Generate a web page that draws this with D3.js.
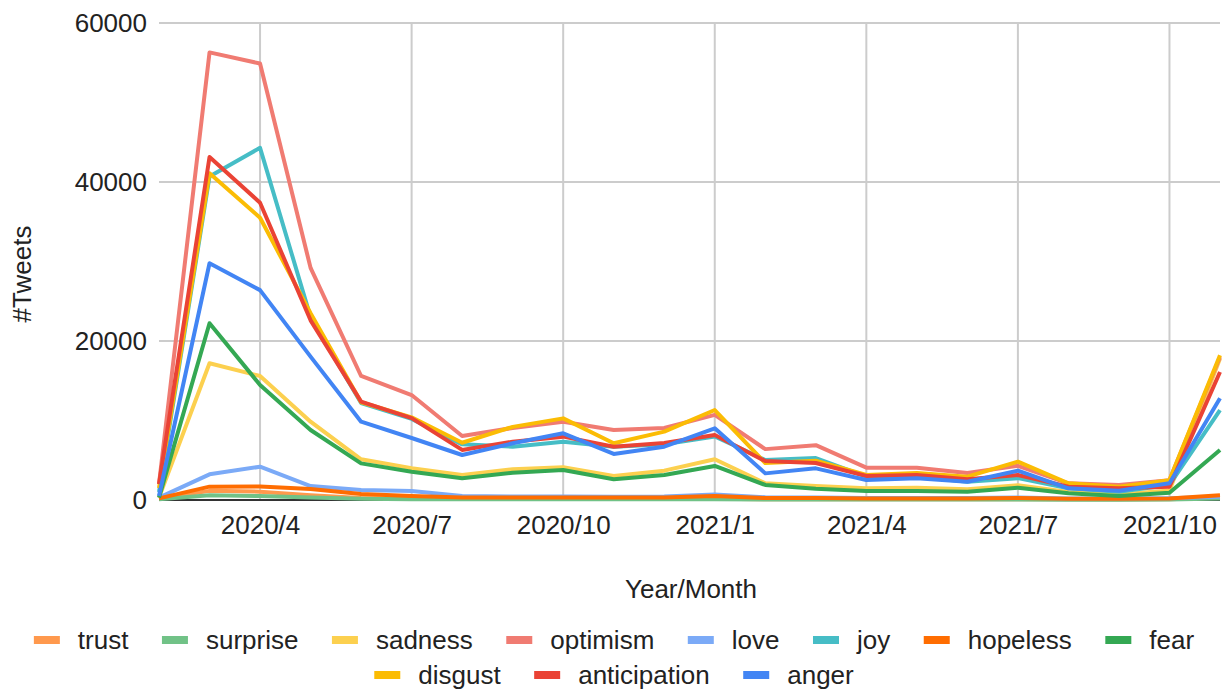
<!DOCTYPE html>
<html>
<head>
<meta charset="utf-8">
<script src="https://cdn.jsdelivr.net/npm/d3@7"></script>
<style>
  html, body { margin: 0; padding: 0; background: #fff; }
  svg { display: block; font-family: "Liberation Sans", Arial, sans-serif; }
</style>
</head>
<body>
<svg id="chart" width="1223" height="691"></svg>
<script>
// Months on the x axis
const months = ["2020/2","2020/3","2020/4","2020/5","2020/6","2020/7","2020/8","2020/9","2020/10","2020/11","2020/12",
  "2021/1","2021/2","2021/3","2021/4","2021/5","2021/6","2021/7","2021/8","2021/9","2021/10","2021/11"];
const xTickLabels = ["2020/4","2020/7","2020/10","2021/1","2021/4","2021/7","2021/10"];
const yTickValues = [0, 20000, 40000, 60000];

// Monthly tweet counts per emotion
const trust        = [200, 1150, 1050, 600, 250, 150, 120, 120, 130, 120, 130, 150, 100, 100, 90, 90, 90, 100, 80, 70, 80, 300];
const surprise     = [100, 600, 500, 300, 150, 100, 80, 80, 90, 80, 80, 100, 60, 60, 50, 50, 50, 60, 40, 40, 50, 200];
const sadness      = [300, 17200, 15600, 9850, 5120, 4000, 3150, 3860, 4110, 3020, 3690, 5120, 2100, 1760, 1470, 1550, 1340, 1850, 1000, 700, 1200, 17800];
const optimism     = [2000, 56300, 54900, 29200, 15600, 13200, 8050, 9060, 9850, 8800, 9050, 10700, 6400, 6900, 4070, 4050, 3400, 4300, 2100, 1900, 2500, 18000];
const love         = [300, 3230, 4190, 1760, 1260, 1130, 500, 450, 450, 420, 450, 700, 350, 300, 250, 250, 250, 300, 200, 180, 220, 400];
const joy          = [1000, 40700, 44300, 23000, 12200, 10200, 7000, 6700, 7340, 6700, 7000, 8000, 5030, 5280, 2940, 2940, 2300, 2750, 1470, 1050, 1890, 11300];
const hopeless     = [200, 1680, 1700, 1380, 750, 500, 300, 300, 320, 300, 320, 500, 250, 250, 200, 200, 200, 250, 150, 150, 200, 600];
const fear         = [300, 22230, 14470, 8800, 4610, 3560, 2730, 3440, 3770, 2600, 3150, 4280, 1890, 1420, 1130, 1130, 1050, 1550, 840, 500, 920, 6300];
const disgust      = [1500, 41100, 35500, 23500, 12300, 10400, 7200, 9200, 10270, 7130, 8600, 11320, 4650, 4950, 3150, 3400, 2940, 4820, 2100, 1680, 2500, 18200];
const anticipation = [2000, 43150, 37400, 22600, 12370, 10300, 6300, 7340, 7970, 6700, 7170, 8180, 4900, 4650, 3020, 3140, 2600, 3150, 1680, 1470, 1680, 16100];
const anger        = [500, 29780, 26400, 18030, 9850, 7800, 5660, 7130, 8390, 5790, 6710, 9020, 3350, 3980, 2520, 2730, 2300, 3690, 1470, 1170, 2100, 12800];

const seriesNames = ["trust","surprise","sadness","optimism","love","joy","hopeless","fear","disgust","anticipation","anger"];
const seriesValues = [trust, surprise, sadness, optimism, love, joy, hopeless, fear, disgust, anticipation, anger];
const seriesColors = ["#ff994d","#71c287","#fcd04f","#f07b72","#7baaf7","#46bdc6","#ff6d01","#34a853","#fbbc04","#ea4335","#4285f4"];

const svg = d3.select("#chart");
const plotLeft = 159, plotRight = 1220, plotTop = 23, plotBottom = 500;
const fontSize = 26, textColor = "#222";

const x = d3.scalePoint().domain(months).range([plotLeft, plotRight]);
const y = d3.scaleLinear().domain([0, 60000]).range([plotBottom, plotTop]);

// Grid
const grid = svg.append("g");
grid.selectAll("line.h").data(yTickValues.filter(v => v > 0)).join("line")
  .attr("class", "h")
  .attr("x1", plotLeft).attr("x2", plotRight)
  .attr("y1", d => y(d)).attr("y2", d => y(d))
  .attr("stroke", "#cccccc").attr("stroke-width", 2);
grid.selectAll("line.v").data(xTickLabels).join("line")
  .attr("class", "v")
  .attr("x1", d => x(d)).attr("x2", d => x(d))
  .attr("y1", plotTop).attr("y2", plotBottom)
  .attr("stroke", "#cccccc").attr("stroke-width", 2);

// Baseline at zero
svg.append("line")
  .attr("x1", plotLeft).attr("x2", plotRight)
  .attr("y1", y(0)).attr("y2", y(0))
  .attr("stroke", "#333333").attr("stroke-width", 2);

// Axes (labels only)
const xAxis = svg.append("g").attr("transform", `translate(0,${plotBottom})`)
  .call(d3.axisBottom(x).tickValues(xTickLabels).tickSize(0).tickPadding(16));
xAxis.select(".domain").remove();
xAxis.selectAll("text").attr("font-size", fontSize).attr("fill", textColor).attr("font-family", null);

const yAxis = svg.append("g").attr("transform", `translate(${plotLeft},0)`)
  .call(d3.axisLeft(y).tickValues(yTickValues).tickFormat(d3.format("d")).tickSize(0).tickPadding(12));
yAxis.select(".domain").remove();
yAxis.selectAll("text").attr("font-size", fontSize).attr("fill", textColor).attr("font-family", null);
svg.selectAll("g.tick").attr("font-family", null);
xAxis.attr("font-family", null);
yAxis.attr("font-family", null);

// Axis titles
svg.append("text").attr("x", 691).attr("y", 598).attr("text-anchor", "middle")
  .attr("font-size", fontSize).attr("fill", textColor).text("Year/Month");
svg.append("text").attr("transform", "translate(31,274) rotate(-90)").attr("text-anchor", "middle")
  .attr("font-size", fontSize).attr("fill", textColor).text("#Tweets");

// Lines
const line = d3.line().x((d, i) => x(months[i])).y(d => y(d));
svg.append("g").selectAll("path").data(seriesValues).join("path")
  .attr("d", d => line(d))
  .attr("fill", "none")
  .attr("stroke", (d, i) => seriesColors[i])
  .attr("stroke-width", 4)
  .attr("stroke-linejoin", "round");

// Legend, two centred rows
const rows = [seriesNames.slice(0, 8).map((n, k) => k), seriesNames.slice(8).map((n, k) => k + 8)];
const rowY = [640, 675];
const swW = 26, swH = 8, swGap = 18, itemGap = 33.5, legendCenter = 614;
rows.forEach((idxs, r) => {
  const g = svg.append("g");
  let cx = 0;
  idxs.forEach(i => {
    const item = g.append("g").attr("transform", `translate(${cx},0)`);
    item.append("rect").attr("x", 0).attr("y", rowY[r] - swH / 2).attr("width", swW).attr("height", swH)
      .attr("fill", seriesColors[i]);
    const t = item.append("text").attr("x", swW + swGap).attr("y", rowY[r]).attr("dy", "0.35em")
      .attr("font-size", fontSize).attr("fill", textColor).text(seriesNames[i]);
    cx += swW + swGap + t.node().getComputedTextLength() + itemGap;
  });
  const total = cx - itemGap;
  g.attr("transform", `translate(${legendCenter - total / 2},0)`);
});
</script>
</body>
</html>
